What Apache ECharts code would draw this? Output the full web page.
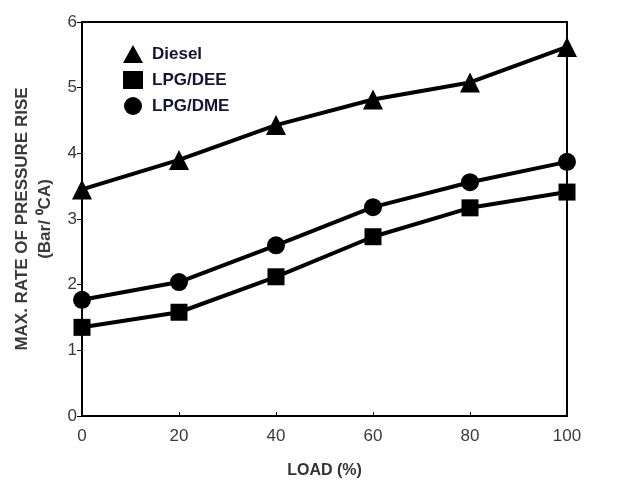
<!DOCTYPE html>
<html>
<head>
<meta charset="utf-8">
<script src="https://cdn.jsdelivr.net/npm/echarts@6/dist/echarts.min.js"></script>
<style>
  html, body { margin: 0; padding: 0; background: #fff; }
  #chart { width: 620px; height: 486px; }
</style>
</head>
<body>
<div id="chart"></div>
<script>
// Engine load (%) on the x axis
const loads = [0, 20, 40, 60, 80, 100];

// Maximum rate of pressure rise (bar/°CA) for each fuel
const diesel = [3.45, 3.90, 4.43, 4.82, 5.08, 5.62];
const lpgDee = [1.35, 1.58, 2.12, 2.73, 3.17, 3.41];
const lpgDme = [1.77, 2.04, 2.60, 3.18, 3.56, 3.87];

const seriesNames = ['Diesel', 'LPG/DEE', 'LPG/DME'];
const yTicks = [0, 1, 2, 3, 4, 5, 6];

const pair = (vals) => loads.map((x, i) => [x, vals[i]]);

const chart = echarts.init(document.getElementById('chart'), null, { renderer: 'canvas' });

const lineSeries = (name, vals, symbol, size) => ({
  name: name,
  type: 'line',
  data: pair(vals),
  symbol: symbol,
  symbolSize: size,
  lineStyle: { color: '#000', width: 4 },
  itemStyle: { color: '#000' },
  z: 3
});

const baseFont = '"Liberation Sans", Arial, sans-serif';

chart.setOption({
  animation: false,
  backgroundColor: '#fff',
  grid: {
    left: 82, right: 53, top: 22, bottom: 70,
    containLabel: false,
    outerBoundsMode: 'none',
    show: true, borderColor: '#000', borderWidth: 2
  },
  legend: {
    orient: 'vertical',
    left: 118, top: 40,
    itemWidth: 20, itemHeight: 18, itemGap: 8,
    data: [
      { name: seriesNames[0], icon: 'triangle' },
      { name: seriesNames[1], icon: 'rect' },
      { name: seriesNames[2], icon: 'circle' }
    ],
    textStyle: {
      color: '#141430', fontSize: 17, fontWeight: 'bold',
      fontFamily: '"Liberation Sans Narrow", "Liberation Sans", Arial, sans-serif',
      padding: [0, 0, 0, 4]
    }
  },
  xAxis: {
    type: 'value',
    min: 0, max: 100, interval: 20,
    name: 'LOAD (%)',
    nameLocation: 'middle',
    nameGap: 47,
    nameTextStyle: {
      color: '#333', fontSize: 16, fontWeight: 'bold', fontFamily: baseFont
    },
    axisLine: { lineStyle: { color: '#000', width: 2 } },
    axisTick: { inside: true, length: 4, lineStyle: { color: '#000' } },
    axisLabel: { color: '#3a3a3a', fontSize: 17, margin: 12, fontFamily: baseFont },
    splitLine: { show: false }
  },
  yAxis: {
    type: 'value',
    min: yTicks[0], max: yTicks[yTicks.length - 1], interval: 1,
    name: 'MAX. RATE OF PRESSURE RISE\n(Bar/ \u2070CA)',
    nameLocation: 'middle',
    nameGap: 25,
    nameRotate: 90,
    nameTextStyle: {
      color: '#3a3a3a', fontSize: 17, fontWeight: 'bold', lineHeight: 23,
      fontFamily: baseFont
    },
    axisLine: { lineStyle: { color: '#000', width: 2 } },
    axisTick: { inside: false, length: 5, lineStyle: { color: '#000' } },
    axisLabel: { color: '#3a3a3a', fontSize: 17, margin: 5, fontFamily: baseFont },
    splitLine: { show: false }
  },
  series: [
    lineSeries(seriesNames[0], diesel, 'triangle', 20),
    lineSeries(seriesNames[1], lpgDee, 'rect', 17),
    lineSeries(seriesNames[2], lpgDme, 'circle', 18)
  ]
});
</script>
</body>
</html>
